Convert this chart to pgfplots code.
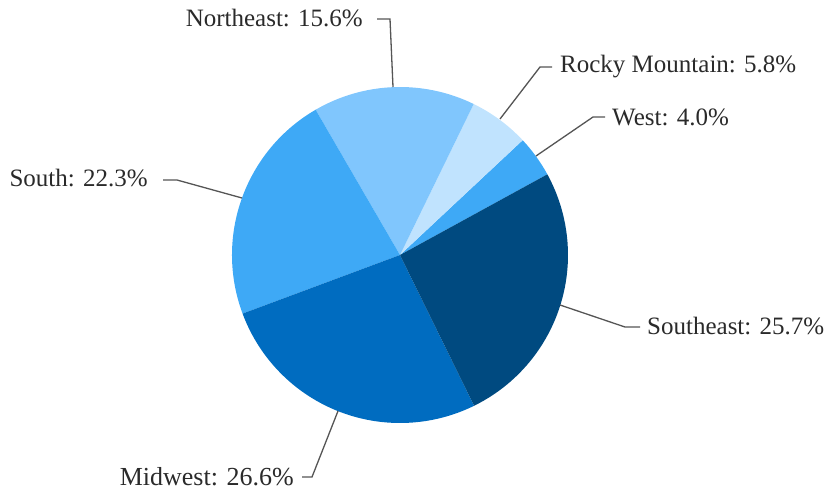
\documentclass[border=0pt]{standalone}
\usepackage{pgfplots}
\pgfplotsset{compat=1.18}
\usepackage{fontspec}
\setmainfont{Liberation Serif}
\definecolor{cSE}{HTML}{004A80}
\definecolor{cMW}{HTML}{006CC0}
\definecolor{cS}{HTML}{3EA9F6}
\definecolor{cNE}{HTML}{80C6FD}
\definecolor{cRM}{HTML}{C0E3FE}
\definecolor{cW}{HTML}{3EA9F6}
\definecolor{lead}{HTML}{555555}
\definecolor{txt}{HTML}{2A2A2A}
% shares in percent, counter-clockwise from the start angle
\def\pW{4.0}\def\pRM{5.8}\def\pNE{15.6}\def\pS{22.3}\def\pMW{26.6}\def\pSE{25.7}
\pgfmathsetmacro\aA{28.7}
\pgfmathsetmacro\aB{\aA+3.6*\pW}
\pgfmathsetmacro\aC{\aB+3.6*\pRM}
\pgfmathsetmacro\aD{\aC+3.6*\pNE}
\pgfmathsetmacro\aE{\aD+3.6*\pS}
\pgfmathsetmacro\aF{\aE+3.6*\pMW}
\pgfmathsetmacro\aG{\aF+3.6*\pSE}
\begin{document}
\begin{tikzpicture}
\begin{axis}[width=826pt,height=491pt,scale only axis,
  xmin=0,xmax=826,ymin=0,ymax=491,hide axis,clip=false]
\path (axis cs:0,0) rectangle (axis cs:826,491);
\fill[cW]  (axis cs:400,236) -- ++(\aA:168pt) arc[start angle=\aA,end angle=\aB,radius=168pt] -- cycle;
\fill[cRM] (axis cs:400,236) -- ++(\aB:168pt) arc[start angle=\aB,end angle=\aC,radius=168pt] -- cycle;
\fill[cNE] (axis cs:400,236) -- ++(\aC:168pt) arc[start angle=\aC,end angle=\aD,radius=168pt] -- cycle;
\fill[cS]  (axis cs:400,236) -- ++(\aD:168pt) arc[start angle=\aD,end angle=\aE,radius=168pt] -- cycle;
\fill[cMW] (axis cs:400,236) -- ++(\aE:168pt) arc[start angle=\aE,end angle=\aF,radius=168pt] -- cycle;
\fill[cSE] (axis cs:400,236) -- ++(\aF:168pt) arc[start angle=\aF,end angle=\aG,radius=168pt] -- cycle;
% leader lines
\draw[lead,line width=1.3pt] (axis cs:377,472) -- (axis cs:390,472) -- (axis cs:393,404);
\draw[lead,line width=1.3pt] (axis cs:552,424) -- (axis cs:540,424) -- (axis cs:500,372);
\draw[lead,line width=1.3pt] (axis cs:605,374) -- (axis cs:593,374) -- (axis cs:536,335);
\draw[lead,line width=1.3pt] (axis cs:163,311) -- (axis cs:177,311) -- (axis cs:242,293);
\draw[lead,line width=1.3pt] (axis cs:560,186) -- (axis cs:625,164) -- (axis cs:640,164);
\draw[lead,line width=1.3pt] (axis cs:338,80) -- (axis cs:312,14) -- (axis cs:302,14);
% labels
\begin{scope}[every node/.style={inner sep=0pt,text=txt,font=\fontsize{25}{30}\selectfont}]
\node[anchor=base east] at (axis cs:363,464) {Northeast: 15.6\%};
\node[anchor=base west] at (axis cs:560,418) {Rocky Mountain: 5.8\%};
\node[anchor=base west] at (axis cs:612,366) {West: 4.0\%};
\node[anchor=base east] at (axis cs:148,305) {South: 22.3\%};
\node[anchor=base west] at (axis cs:647,157) {Southeast: 25.7\%};
\node[anchor=base east] at (axis cs:294,6) {\fontsize{26}{30}\selectfont Midwest: 26.6\%};
\end{scope}
\end{axis}
\end{tikzpicture}
\end{document}
